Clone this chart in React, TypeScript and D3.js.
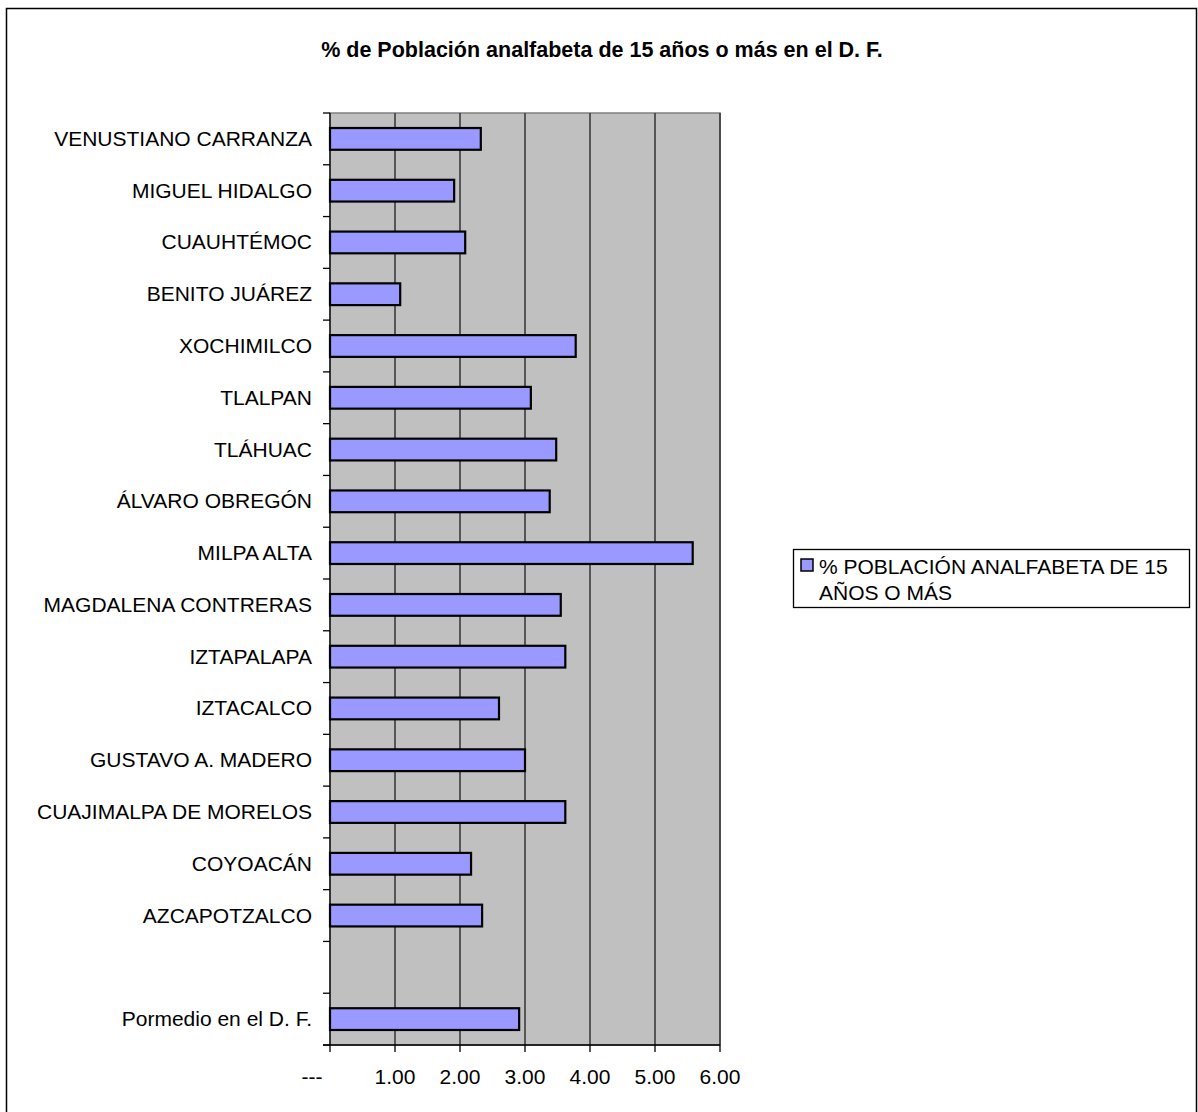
import React from "react";
import * as d3 from "d3";

const title = "% de Población analfabeta de 15 años o más en el D. F.";
const categories = [
  "VENUSTIANO CARRANZA",
  "MIGUEL HIDALGO",
  "CUAUHTÉMOC",
  "BENITO JUÁREZ",
  "XOCHIMILCO",
  "TLALPAN",
  "TLÁHUAC",
  "ÁLVARO OBREGÓN",
  "MILPA ALTA",
  "MAGDALENA CONTRERAS",
  "IZTAPALAPA",
  "IZTACALCO",
  "GUSTAVO A. MADERO",
  "CUAJIMALPA DE MORELOS",
  "COYOACÁN",
  "AZCAPOTZALCO",
  "",
  "Pormedio en el D. F.",
];
const values: (number | null)[] = [
  2.32, 1.91, 2.08, 1.08, 3.78, 3.09, 3.48, 3.38, 5.58, 3.55, 3.62, 2.6, 3.0,
  3.62, 2.17, 2.34, null, 2.91,
];
const xTicks = [0, 1, 2, 3, 4, 5, 6];
const xTickLabels = ["---", "1.00", "2.00", "3.00", "4.00", "5.00", "6.00"];
const legendLines = ["% POBLACIÓN ANALFABETA DE 15", "AÑOS O MÁS"];

const FONT = "Arial, 'Liberation Sans', sans-serif";

export default function App() {
  const W = 1198;
  const H = 1112;
  const plot = { left: 330, right: 720, top: 113, bottom: 1045 };
  const x = d3.scaleLinear().domain([0, 6]).range([plot.left, plot.right]);
  const y = d3
    .scaleBand<string>()
    .domain(categories)
    .range([plot.top, plot.bottom])
    .paddingInner(0.58)
    .paddingOuter(0.29);
  const step = y.step();
  const boundaries = categories.map((c) => (y(c) as number) - (step * y.paddingInner()) / 2);
  boundaries.push(plot.bottom);

  return (
    <div style={{ position: "absolute", left: 0, top: 0 }}>
      <svg width={W} height={H} style={{ display: "block", fontFamily: FONT }}>
        <rect x={0} y={0} width={W} height={H} fill="#fff" />
        <rect x={6.5} y={8.5} width={1190} height={1120} fill="none" stroke="#000" strokeWidth={1.5} />
        <text x={602} y={57} textAnchor="middle" fontWeight="bold" fontSize={21.5} fill="#000">
          {title}
        </text>
        {/* plot area */}
        <rect
          x={plot.left}
          y={plot.top}
          width={plot.right - plot.left}
          height={plot.bottom - plot.top}
          fill="#c0c0c0"
          stroke="#808080"
          strokeWidth={1.5}
        />
        {xTicks.slice(1).map((t) => (
          <line key={t} x1={x(t)} x2={x(t)} y1={plot.top} y2={plot.bottom} stroke="#333" strokeWidth={1.5} />
        ))}
        {/* bars */}
        {categories.map((c, i) =>
          values[i] == null ? null : (
            <rect
              key={i}
              x={x(0)}
              y={y(c)}
              width={x(values[i] as number) - x(0)}
              height={y.bandwidth()}
              fill="#9999ff"
              stroke="#000"
              strokeWidth={2.2}
            />
          )
        )}
        {/* y axis */}
        <line x1={plot.left} x2={plot.left} y1={plot.top} y2={plot.bottom} stroke="#000" strokeWidth={1.3} />
        {boundaries.map((b, i) => (
          <line key={i} x1={plot.left - 7} x2={plot.left} y1={b} y2={b} stroke="#000" strokeWidth={1.3} />
        ))}
        {categories.map((c, i) => (
          <text
            key={i}
            x={plot.left - 18}
            y={(y(c) as number) + y.bandwidth() / 2 + 7}
            textAnchor="end"
            fontSize={21}
            fill="#000"
          >
            {c}
          </text>
        ))}
        {/* x axis */}
        <line x1={plot.left - 7} x2={plot.right} y1={plot.bottom} y2={plot.bottom} stroke="#000" strokeWidth={1.3} />
        {xTicks.map((t, i) => (
          <g key={t}>
            <line x1={x(t)} x2={x(t)} y1={plot.bottom} y2={plot.bottom + 7} stroke="#000" strokeWidth={1.3} />
            <text x={x(t) + (t === 0 ? -18 : 0)} y={1084} textAnchor="middle" fontSize={21} fill="#000">
              {xTickLabels[i]}
            </text>
          </g>
        ))}
        {/* legend */}
        <rect x={793.5} y={549.5} width={396} height={58} fill="#fff" stroke="#000" strokeWidth={1.3} />
        <rect x={801} y={559} width={12} height={12} fill="#9999ff" stroke="#000" strokeWidth={1.5} />
        {legendLines.map((l, i) => (
          <text key={i} x={819} y={574 + i * 26} fontSize={21} fill="#000">
            {l}
          </text>
        ))}
      </svg>
    </div>
  );
}
